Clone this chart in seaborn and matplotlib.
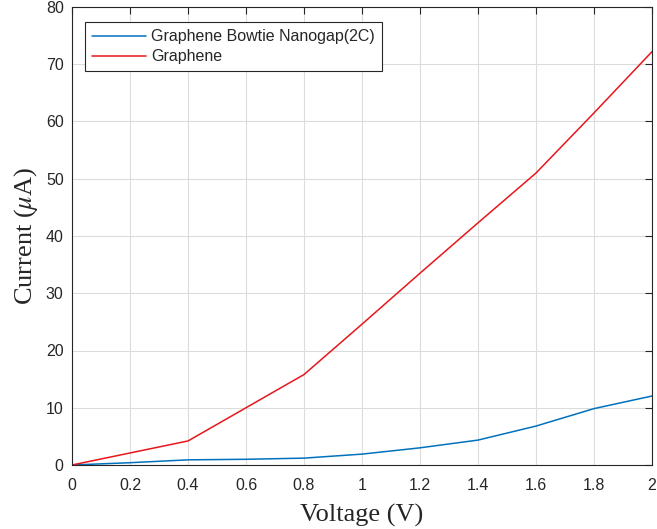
import matplotlib
matplotlib.use("Agg")
import matplotlib.pyplot as plt
import seaborn as sns
import pandas as pd

voltage = [0.0, 0.2, 0.4, 0.6, 0.8, 1.0, 1.2, 1.4, 1.6, 1.8, 2.0]
bowtie_current = [0.0, 0.4, 0.9, 1.0, 1.2, 1.9, 3.0, 4.35, 6.8, 9.85, 12.05]
graphene_current = [0.0, 2.1, 4.2, 10.0, 15.8, 24.6, 33.5, 42.3, 51.0, 61.5, 72.2]
series_names = ["Graphene Bowtie Nanogap(2C)", "Graphene"]
series_colors = ["#0072BD", "#E8161B"]

df = pd.concat([
    pd.DataFrame({"V": voltage, "I": bowtie_current, "series": series_names[0]}),
    pd.DataFrame({"V": voltage, "I": graphene_current, "series": series_names[1]}),
])

sns.set_style("white")
plt.rcParams["font.family"] = ["Liberation Sans", "DejaVu Sans"]
plt.rcParams["mathtext.fontset"] = "stix"

fig = plt.figure(figsize=(6.57, 5.29), dpi=100)
ax = fig.add_axes([72 / 657, 64 / 529, 580 / 657, 458 / 529])

sns.lineplot(data=df, x="V", y="I", hue="series", hue_order=series_names,
             palette=series_colors, linewidth=1.1, ax=ax)

ax.set_xlim(0, 2)
ax.set_ylim(0, 80)
ax.set_xticks([0, 0.2, 0.4, 0.6, 0.8, 1, 1.2, 1.4, 1.6, 1.8, 2])
ax.set_xticklabels(["0", "0.2", "0.4", "0.6", "0.8", "1", "1.2", "1.4", "1.6", "1.8", "2"])
ax.set_yticks(range(0, 81, 10))
ax.tick_params(axis="both", direction="in", top=True, right=True, labelsize=11.5,
               length=5, width=0.8, colors="#262626")
ax.tick_params(axis="x", pad=9)
ax.tick_params(axis="y", pad=6)
ax.grid(True, color="#DCDCDC", linewidth=0.8)
for s in ax.spines.values():
    s.set_color("#262626")
    s.set_linewidth(0.8)

ax.set_xlabel("Voltage (V)", family="Liberation Serif", fontsize=19, labelpad=8)
ax.set_ylabel(r"Current ($\mu$A)", family="Liberation Serif", fontsize=19, labelpad=4)

leg = ax.legend(loc="upper left", bbox_to_anchor=(0.022, 0.967), borderaxespad=0,
                fontsize=11.5, frameon=True, fancybox=False, edgecolor="#262626",
                framealpha=1, handlelength=3.4, handletextpad=0.3, borderpad=0.45,
                labelspacing=0.3)
leg.get_frame().set_linewidth(0.8)

fig.savefig("out.png", dpi=100)
